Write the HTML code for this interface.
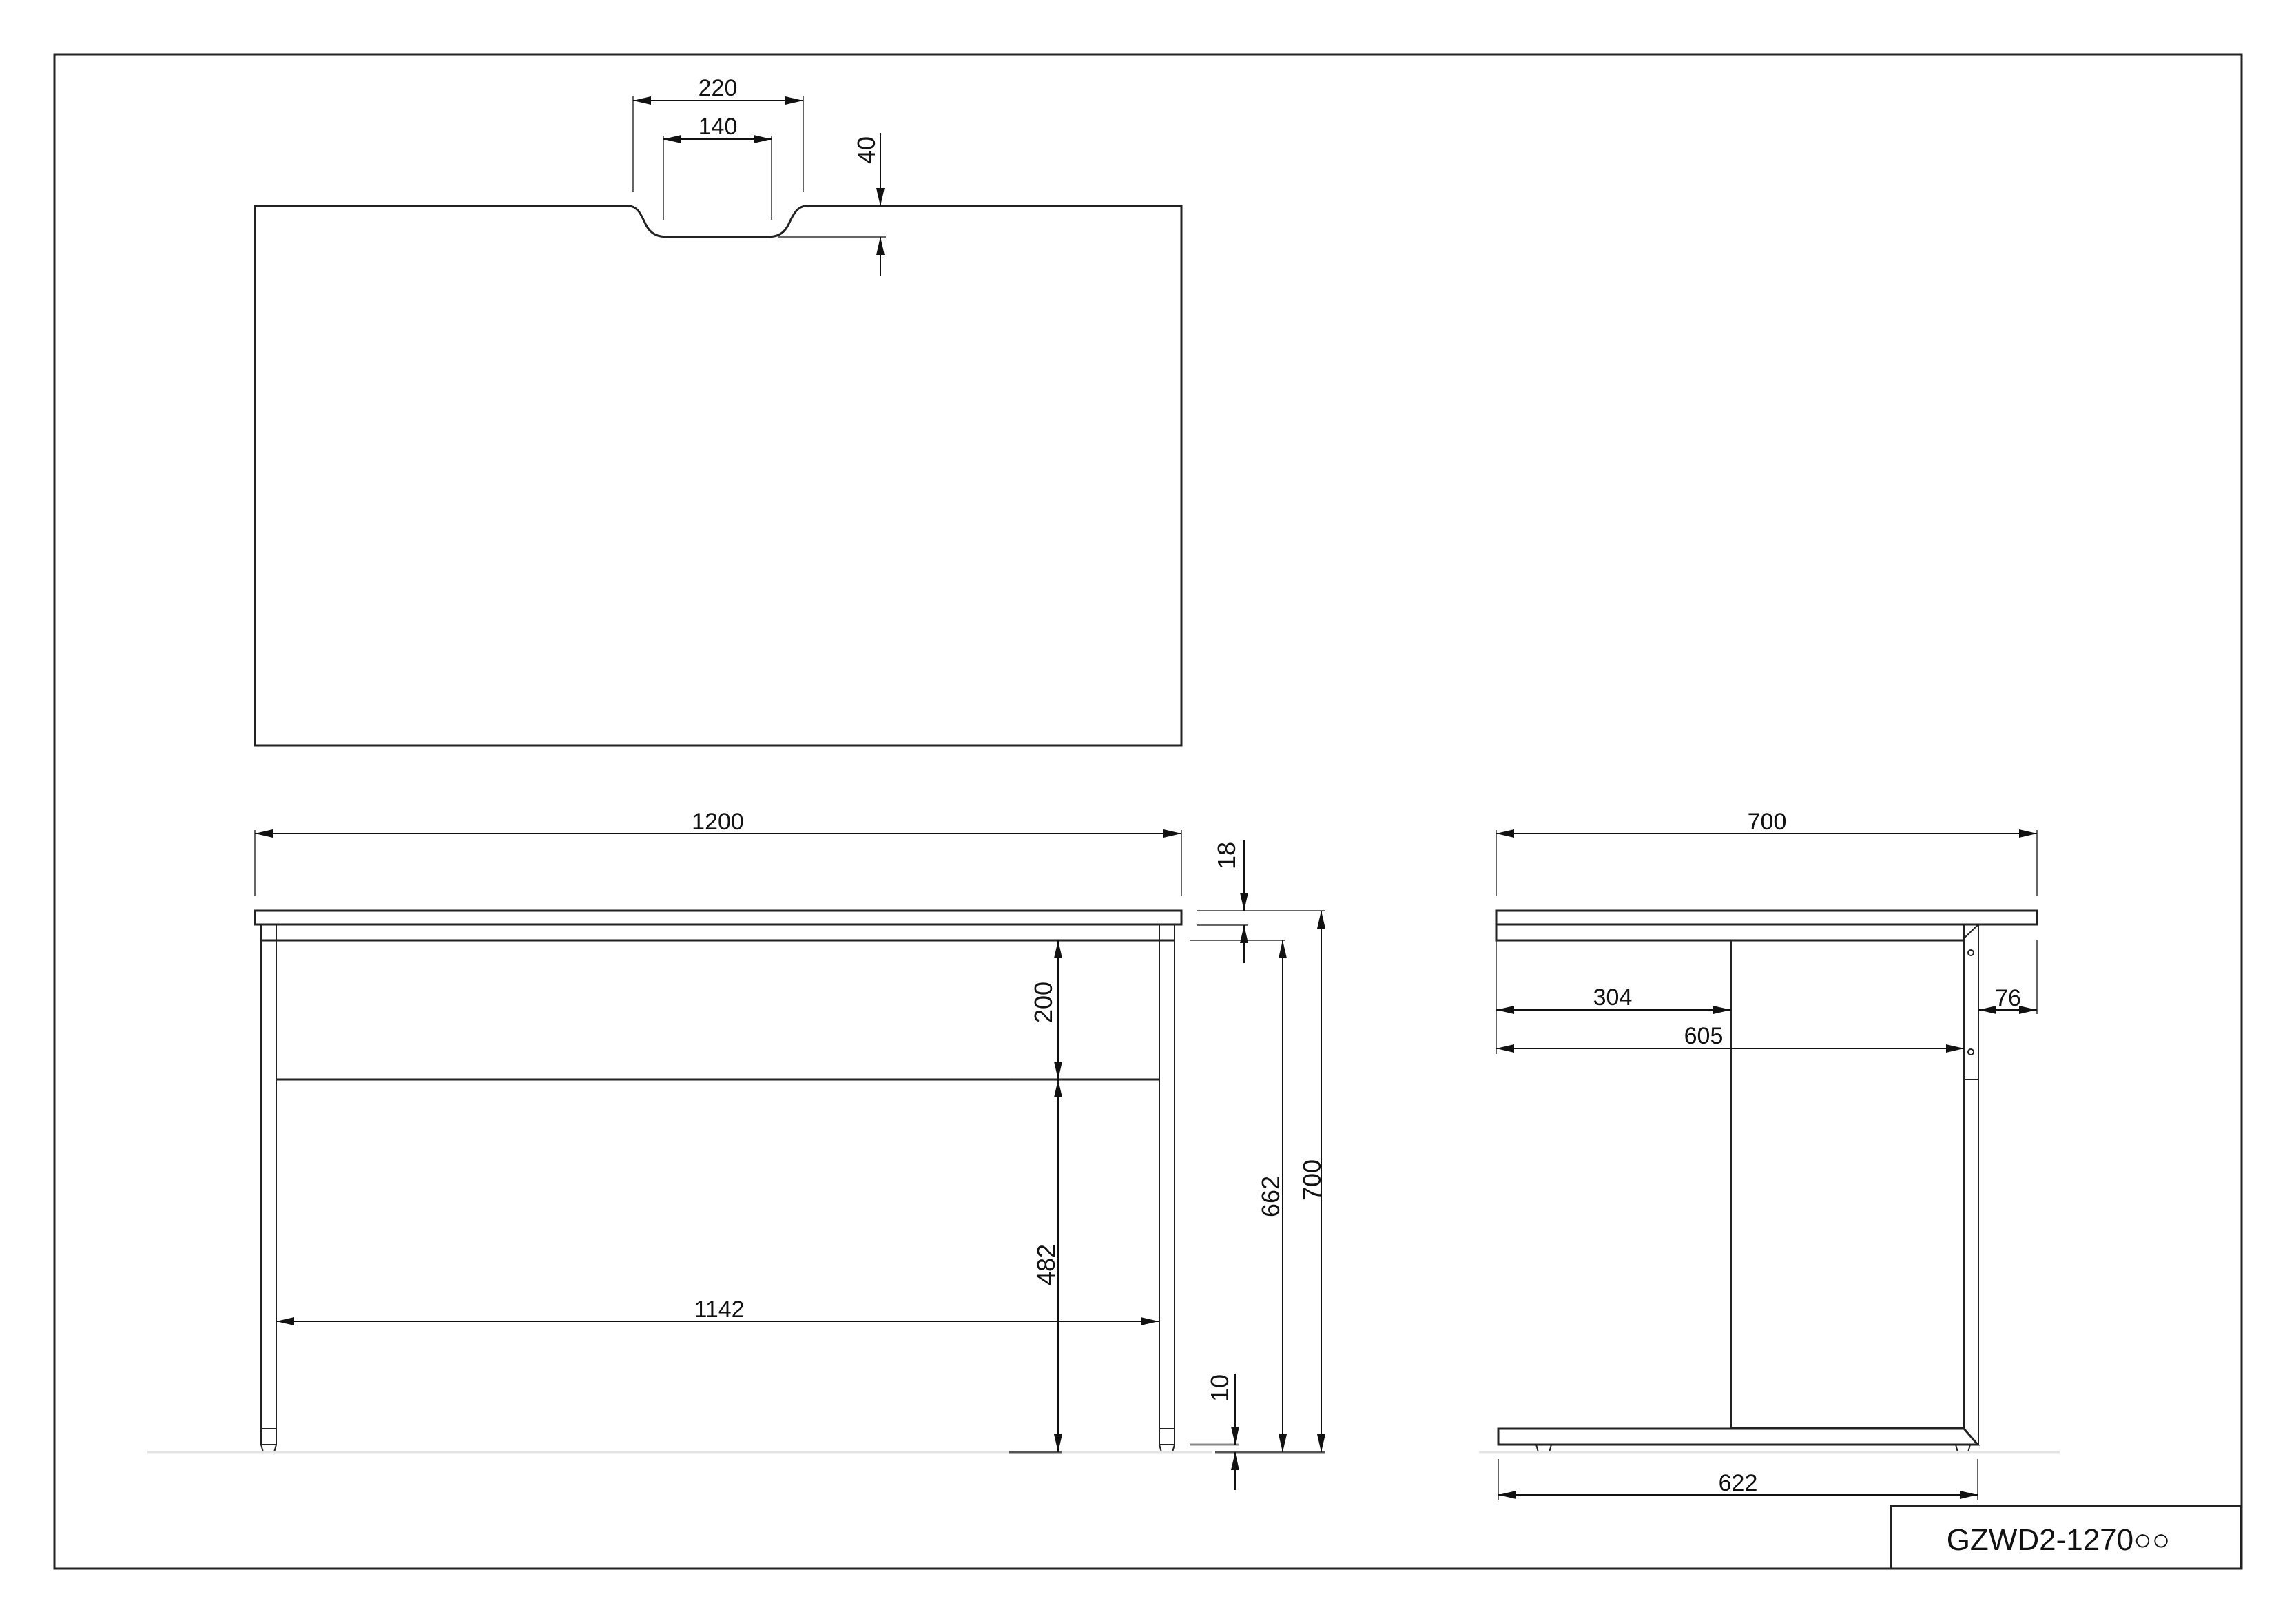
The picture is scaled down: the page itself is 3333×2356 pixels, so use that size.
<!DOCTYPE html>
<html><head><meta charset="utf-8"><style>html,body{margin:0;padding:0;background:#fff}svg{display:block}</style></head>
<body>
<svg width="3333" height="2356" viewBox="0 0 3333 2356" xmlns="http://www.w3.org/2000/svg" font-family="Liberation Sans, sans-serif">
<rect width="3333" height="2356" fill="#fff"/>
<g fill="none" stroke="#222" stroke-width="3">
<rect x="79" y="79" width="3175" height="2198"/>
<rect x="2745" y="2186" width="508" height="91"/>
<!-- top view -->
<path d="M370,299 H912 C925,299 930,310 937,325 C944,340 955,344 970,344 H1113 C1128,344 1138,340 1145,325 C1152,310 1158,299 1171,299 H1715 V1082 H370 Z"/>
<!-- front view -->
<rect x="370" y="1322" width="1345" height="20"/>
<line x1="379" y1="1365" x2="1705" y2="1365"/>
<line x1="401" y1="1567" x2="1683" y2="1567"/>
</g>
<g fill="none" stroke="#222" stroke-width="2">
<path d="M379,1342 V2097 L382,2108 H398 L401,2097 V1342"/>
<line x1="379" y1="2074" x2="401" y2="2074"/><line x1="379" y1="2097" x2="401" y2="2097"/>
<path d="M1683,1342 V2097 L1686,2108 H1702 L1705,2097 V1342"/>
<line x1="1683" y1="2074" x2="1705" y2="2074"/><line x1="1683" y1="2097" x2="1705" y2="2097"/>
<!-- side view -->
<rect x="2172" y="1322" width="785" height="20" stroke-width="3"/>
<path d="M2172,1342 V1365 H2851" stroke-width="3"/>
<line x1="2851" y1="1342" x2="2851" y2="2074"/>
<line x1="2872" y1="1342" x2="2872" y2="2097"/>
<line x1="2872" y1="1342" x2="2851" y2="1362"/>
<line x1="2851" y1="1567" x2="2872" y2="1567"/>
<circle cx="2861" cy="1383" r="4"/><circle cx="2861" cy="1527" r="4"/>
<line x1="2513" y1="1365" x2="2513" y2="2074"/>
<line x1="2513" y1="2073" x2="2851" y2="2073" stroke-width="3"/>
<path d="M2175,2074 H2851 L2871,2097 H2175 Z" stroke-width="3"/>
<path d="M2230,2097 L2233,2108 H2249 L2252,2097"/>
<path d="M2839,2097 L2842,2108 H2857 L2860,2097"/>
</g>
<!-- floor lines -->
<g stroke="#e4e4e4" stroke-width="3">
<line x1="214" y1="2108" x2="1760" y2="2108"/>
<line x1="2147" y1="2108" x2="2990" y2="2108"/>
</g>
<!-- extension lines -->
<g stroke="#333" stroke-width="1.5">
<line x1="919" y1="140" x2="919" y2="279"/><line x1="1166" y1="140" x2="1166" y2="279"/>
<line x1="963" y1="197" x2="963" y2="319"/><line x1="1120" y1="197" x2="1120" y2="319"/>
<line x1="1130" y1="344" x2="1286" y2="344"/>
<line x1="370" y1="1205" x2="370" y2="1300"/><line x1="1715" y1="1205" x2="1715" y2="1300"/>
<line x1="1737" y1="1322" x2="1923" y2="1322"/>
<line x1="1737" y1="1343" x2="1812" y2="1343"/>
<line x1="1727" y1="1365" x2="1866" y2="1365"/>
<line x1="1465" y1="1567" x2="1541" y2="1567"/>
<line x1="1465" y1="2108" x2="1541" y2="2108" stroke-width="3" stroke="#555"/>
<line x1="1727" y1="2097" x2="1798" y2="2097" stroke-width="3" stroke="#888"/>
<line x1="1764" y1="2108" x2="1924" y2="2108" stroke-width="3" stroke="#555"/>
<line x1="2172" y1="1205" x2="2172" y2="1300"/><line x1="2957" y1="1205" x2="2957" y2="1300"/>
<line x1="2172" y1="1365" x2="2172" y2="1530"/>
<line x1="2957" y1="1365" x2="2957" y2="1472"/>
<line x1="2175" y1="2118" x2="2175" y2="2177"/><line x1="2871" y1="2118" x2="2871" y2="2177"/>
</g>
<!-- dimension lines -->
<g stroke="#111" stroke-width="2">
<line x1="919" y1="146" x2="1166" y2="146"/>
<line x1="963" y1="202" x2="1120" y2="202"/>
<line x1="1278" y1="193" x2="1278" y2="299"/><line x1="1278" y1="344" x2="1278" y2="400"/>
<line x1="370" y1="1210" x2="1715" y2="1210"/>
<line x1="401" y1="1918" x2="1682" y2="1918"/>
<line x1="1806" y1="1220" x2="1806" y2="1322"/><line x1="1806" y1="1343" x2="1806" y2="1398"/>
<line x1="1536" y1="1365" x2="1536" y2="2108"/>
<line x1="1862" y1="1365" x2="1862" y2="2108"/>
<line x1="1918" y1="1322" x2="1918" y2="2108"/>
<line x1="1793" y1="1994" x2="1793" y2="2097"/><line x1="1793" y1="2108" x2="1793" y2="2163"/>
<line x1="2172" y1="1210" x2="2957" y2="1210"/>
<line x1="2172" y1="1466" x2="2513" y2="1466"/>
<line x1="2172" y1="1522" x2="2851" y2="1522"/>
<line x1="2872" y1="1466" x2="2957" y2="1466"/>
<line x1="2175" y1="2170" x2="2871" y2="2170"/>
</g>
<!-- arrowheads -->
<g fill="#111">
<polygon points="919,146 945,140 945,152"/><polygon points="1166,146 1140,140 1140,152"/>
<polygon points="963,202 989,196 989,208"/><polygon points="1120,202 1094,196 1094,208"/>
<polygon points="1278,299 1272,273 1284,273"/><polygon points="1278,344 1272,370 1284,370"/>
<polygon points="370,1210 396,1204 396,1216"/><polygon points="1715,1210 1689,1204 1689,1216"/>
<polygon points="401,1918 427,1912 427,1924"/><polygon points="1682,1918 1656,1912 1656,1924"/>
<polygon points="1806,1322 1800,1296 1812,1296"/><polygon points="1806,1343 1800,1369 1812,1369"/>
<polygon points="1536,1365 1530,1391 1542,1391"/><polygon points="1536,1567 1530,1541 1542,1541"/>
<polygon points="1536,1567 1530,1593 1542,1593"/><polygon points="1536,2108 1530,2082 1542,2082"/>
<polygon points="1862,1365 1856,1391 1868,1391"/><polygon points="1862,2108 1856,2082 1868,2082"/>
<polygon points="1918,1322 1912,1348 1924,1348"/><polygon points="1918,2108 1912,2082 1924,2082"/>
<polygon points="1793,2097 1787,2071 1799,2071"/><polygon points="1793,2108 1787,2134 1799,2134"/>
<polygon points="2172,1210 2198,1204 2198,1216"/><polygon points="2957,1210 2931,1204 2931,1216"/>
<polygon points="2172,1466 2198,1460 2198,1472"/><polygon points="2513,1466 2487,1460 2487,1472"/>
<polygon points="2172,1522 2198,1516 2198,1528"/><polygon points="2851,1522 2825,1516 2825,1528"/>
<polygon points="2872,1466 2898,1460 2898,1472"/><polygon points="2957,1466 2931,1460 2931,1472"/>
<polygon points="2175,2170 2201,2164 2201,2176"/><polygon points="2871,2170 2845,2164 2845,2176"/>
</g>
<!-- labels -->
<g fill="#111" font-size="34" text-anchor="middle">
<text x="1042" y="139">220</text>
<text x="1042" y="195">140</text>
<text x="1042" y="1204">1200</text>
<text x="1044" y="1912">1142</text>
<text x="2565" y="1204">700</text>
<text x="2341" y="1459">304</text>
<text x="2473" y="1515">605</text>
<text x="2915" y="1460">76</text>
<text x="2523" y="2164">622</text>
</g>
<g fill="#111" font-size="36" text-anchor="middle">
<text transform="translate(1270,218) rotate(-90)">40</text>
<text transform="translate(1793,1242) rotate(-90)">18</text>
<text transform="translate(1527,1455) rotate(-90)">200</text>
<text transform="translate(1531,1836) rotate(-90)">482</text>
<text transform="translate(1857,1737) rotate(-90)">662</text>
<text transform="translate(1917,1713) rotate(-90)">700</text>
<text transform="translate(1783,2015) rotate(-90)">10</text>
</g>
<text x="2988" y="2250" font-size="44" text-anchor="middle" fill="#111">GZWD2-1270○○</text>
</svg>
</body></html>
